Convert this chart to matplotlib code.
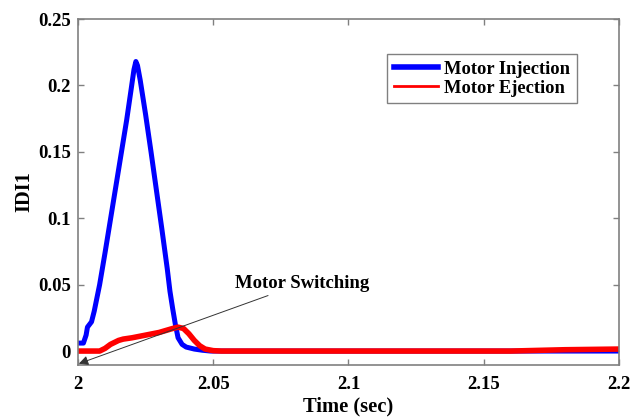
import numpy as np
import matplotlib.pyplot as plt
from matplotlib.lines import Line2D

plt.rcParams["font.family"] = ["Liberation Serif", "DejaVu Serif"]
plt.rcParams["font.weight"] = "bold"

# values
t_inj = [2.000, 2.002, 2.003, 2.0035, 2.005, 2.006, 2.007, 2.008, 2.010, 2.012,
         2.014, 2.016, 2.018, 2.0195, 2.0207, 2.0214, 2.022, 2.023, 2.025, 2.027,
         2.029, 2.031, 2.033, 2.034, 2.035, 2.036, 2.037, 2.0385, 2.040, 2.043,
         2.046, 2.049, 2.2]
y_inj = [0.006, 0.006, 0.012, 0.018, 0.022, 0.030, 0.040, 0.050, 0.074, 0.099,
         0.124, 0.149, 0.174, 0.195, 0.212, 0.218, 0.215, 0.204, 0.178, 0.150,
         0.121, 0.092, 0.062, 0.045, 0.032, 0.020, 0.010, 0.005, 0.003, 0.0015,
         0.0006, 0.0, 0.0]

t_ej = [2.000, 2.008, 2.010, 2.012, 2.015, 2.0167, 2.020, 2.025, 2.030, 2.035,
        2.037, 2.039, 2.041, 2.043, 2.045, 2.047, 2.050, 2.053, 2.160, 2.180, 2.200]
y_ej = [0.0, 0.0, 0.002, 0.005, 0.008, 0.009, 0.010, 0.012, 0.014, 0.017,
        0.018, 0.017, 0.013, 0.008, 0.004, 0.0015, 0.0003, 0.0, 0.0, 0.001, 0.0015]

xticks = [2, 2.05, 2.1, 2.15, 2.2]
xtick_labels = ["2", "2.05", "2.1", "2.15", "2.2"]
yticks = [0, 0.05, 0.1, 0.15, 0.2, 0.25]
ytick_labels = ["0", "0.05", "0.1", "0.15", "0.2", "0.25"]

fig, ax = plt.subplots(figsize=(6.32, 4.17), dpi=100)
fig.subplots_adjust(left=0.1234, right=0.9794, top=0.9544, bottom=0.1247)

ax.plot(t_inj, y_inj, color="#0000ff", lw=3.6, solid_capstyle="round",
        solid_joinstyle="round")
ax.plot(t_ej, y_ej, color="#ff0000", lw=4, solid_capstyle="round",
        solid_joinstyle="round")

ax.set_xlim(2, 2.2)
ax.set_ylim(-0.0105, 0.25)
ax.set_xticks(xticks)
ax.set_xticklabels(xtick_labels)
ax.set_yticks(yticks)
ax.set_yticklabels(ytick_labels)
ax.tick_params(direction="in", length=4, width=1, color="#808080",
               top=True, right=True, labelsize=13.5)
ax.tick_params(axis="x", pad=8)
ax.tick_params(axis="y", pad=5)
for s in ax.spines.values():
    s.set_color("#808080")
    s.set_linewidth(1.2)

ax.set_xlabel("Time (sec)", fontsize=14.8, fontweight="bold", labelpad=2.5)
ax.set_ylabel("IDI1", fontsize=14.8, fontweight="bold", labelpad=3)

ax.annotate("Motor Switching", xy=(2.0003, -0.0095), xytext=(2.058, 0.051),
            fontsize=13.5, fontweight="bold", va="center",
            arrowprops=dict(arrowstyle="-|>", color="#333333", lw=0.7,
                            mutation_scale=14, shrinkA=2, shrinkB=0))

handles = [Line2D([], [], color="#0000ff", lw=4),
           Line2D([], [], color="#ff0000", lw=2)]
leg = ax.legend(handles, ["Motor Injection", "Motor Ejection"],
                loc="upper right", bbox_to_anchor=(0.922, 0.898),
                fancybox=False, framealpha=1, edgecolor="#808080",
                fontsize=13.3, handlelength=2.4, borderpad=0.35,
                labelspacing=0.1, handletextpad=0.35, borderaxespad=0)
leg.get_frame().set_linewidth(1.0)

fig.savefig("out.png", dpi=100)
